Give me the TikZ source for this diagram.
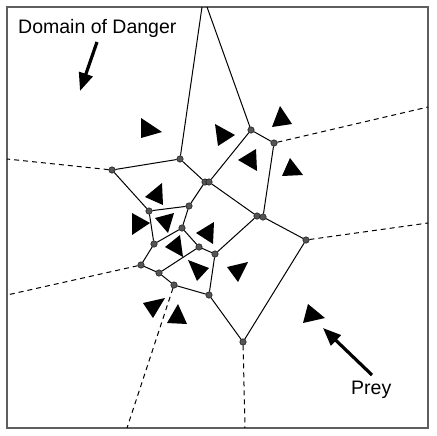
\documentclass[tikz,border=0pt]{standalone}
\usepackage{fontspec}
\setmainfont{Liberation Sans}
\usetikzlibrary{arrows.meta}
\definecolor{ink}{RGB}{0,0,0}
\definecolor{vfill}{RGB}{85,85,85}
\definecolor{rim}{RGB}{95,95,95}
\tikzset{
  vtx/.style={circle,draw=ink,fill=vfill,minimum size=6.5pt,inner sep=0pt,line width=0.4pt},
  edge/.style={line width=1pt,ink},
  ray/.style={line width=1pt,ink,dash pattern=on 5pt off 4pt},
  prey/.style={fill=ink,draw=none},
  pointer/.style={-{Triangle[length=18pt,width=14pt]},line width=3.2pt,ink},
  lbl/.style={font=\fontsize{19.5}{21}\selectfont,inner sep=0pt},
}

\begin{document}
\begin{tikzpicture}[x=1pt,y=-1pt]
\useasboundingbox (0,0) rectangle (436,436);
\draw[rim,line width=1.6pt] (7,7) rectangle (428,428);
% Voronoi vertices
\foreach \n/\p in {a/{180,159},b/{112,170},c1/{205,182},c2/{209,182},d/{251,130},
  e/{274,143},f/{149,211},g/{189,206},h1/{257,216},h2/{263,217},i/{306,240},
  j/{182,228},k/{154,244},l/{199,247},m/{215,254},n/{141,265},o/{159,273},
  p/{174,285},q/{209,295},r/{243,342}}{
  \node[vtx] (\n) at (\p) {};
}
% free ends on the frame
\coordinate (tl) at (202,7);
\coordinate (tr) at (207,7);
\coordinate (wb) at (7,159);
\coordinate (wn) at (7,295);
\coordinate (ee) at (428,107);
\coordinate (ei) at (428,223);
\coordinate (sp) at (127,428);
\coordinate (sr) at (245,428);
% cell edges
\foreach \u/\v in {tl/a,tr/d,a/b,a/c1,c2/d,d/e,b/f,f/g,g/c1,c2/h1,e/h2,h2/i,i/r,
  f/k,g/j,j/k,j/l,l/m,m/h1,m/q,k/n,n/o,o/l,o/p,p/q,q/r}{
  \draw[edge] (\u) -- (\v);
}
\foreach \u/\v in {b/wb,n/wn,e/ee,i/ei,p/sp,r/sr}{
  \draw[ray] (\u) -- (\v);
}
% prey
\foreach \t in {{(141,118)--(162,132)--(141,138)},{(215,124)--(235,135)--(218,146)},
  {(280,106)--(292,124)--(272,127)},{(256,149)--(257,171)--(238,160)},
  {(290,158)--(303,175)--(282,176)},{(162,183)--(163,205)--(145,197)},
  {(132,213)--(150,223)--(132,235)},{(155,218)--(174,213)--(168,233)},
  {(214,222)--(213,244)--(196,233)},{(165,247)--(180,235)--(183,257)},
  {(188,260)--(209,268)--(197,281)},{(227,267)--(248,262)--(238,282)},
  {(143,303)--(165,298)--(153,318)},{(178,304)--(187,324)--(167,323)},
  {(308,304)--(325,318)--(303,323)}}{
  \fill[prey] \t -- cycle;
}
% labels
\node[lbl,anchor=base west] (dom) at (18,34) {Domain of Danger};
\coordinate (domtip) at (80,91);
\draw[pointer] (97,42) -- (domtip);
\node[lbl,anchor=base west] (prey) at (351,394) {Prey};
\coordinate (preytip) at (323,328);
\draw[pointer] (372,375) -- (preytip);
\end{tikzpicture}
\end{document}
